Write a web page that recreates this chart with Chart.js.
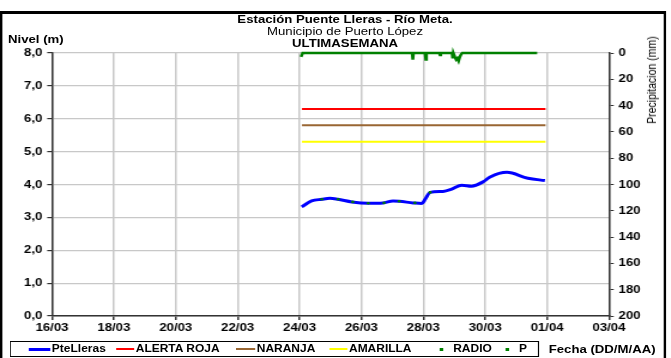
<!DOCTYPE html>
<html>
<head>
<meta charset="utf-8">
<script src="https://cdn.jsdelivr.net/npm/chart.js@4.4.1/dist/chart.umd.min.js"></script>
<style>
html, body { margin: 0; padding: 0; background: #fff; overflow: hidden; }
/* the whole sheet is drawn narrow and then widened a bit, like the printed report */
#hoja { position: absolute; left: 0; top: 0; width: 560px; height: 358px; transform: scale(1.198, 1); transform-origin: 0 0; font-family: "Liberation Sans", Arial, sans-serif; color: #000; }
#marco { position: absolute; left: 0; top: 11px; width: 556px; height: 400px; box-sizing: border-box; border: 3px solid #000; border-left-width: 2.5px; border-right-width: 2.5px; }
#grafico { position: absolute; left: 0; top: 0; }
.tit { position: absolute; left: 0; width: 576px; text-align: center; font-size: 11px; line-height: 12px; white-space: nowrap; }
.b { font-weight: bold; }
#nivel { position: absolute; left: 6.7px; top: 33px; font-size: 11px; font-weight: bold; line-height: 12px; }
#precip { position: absolute; left: 544px; top: 80px; font-size: 10.5px; line-height: 11px; white-space: nowrap; color: #000; transform: translate(-50%, -50%) rotate(-90deg); }
#leyenda { position: absolute; left: 8.3px; top: 341px; width: 442px; height: 16px; box-sizing: border-box; border: 1px solid #000; }
.it { position: absolute; top: 0; height: 14px; line-height: 14px; font-size: 10px; font-weight: bold; white-space: nowrap; }
.sw { position: absolute; height: 2px; top: 6px; }
.pt { position: absolute; width: 2.5px; height: 3px; top: 5.5px; background: #008000; }
#fecha { position: absolute; left: 458px; top: 342px; font-size: 11px; font-weight: bold; line-height: 14px; white-space: nowrap; }
</style>
</head>
<body>
<div id="hoja">
  <div id="marco"></div>
  <canvas id="grafico" width="560" height="358"></canvas>
  <div class="tit b" style="top:13px">Estación Puente Lleras - Río Meta.</div>
  <div class="tit" style="top:25px">Municipio de Puerto López</div>
  <div class="tit b" style="top:37px">ULTIMASEMANA</div>
  <div id="nivel">Nivel (m)</div>
  <div id="precip">Precipitacion (mm)</div>
  <div id="leyenda">
    <div class="sw" style="left:15px;width:18px;height:3px;top:5.5px;background:#0000ff"></div>
    <div class="it" style="left:34px">PteLleras</div>
    <div class="sw" style="left:88px;width:15px;background:#ff0000"></div>
    <div class="it" style="left:104px">ALERTA ROJA</div>
    <div class="sw" style="left:188px;width:16px;background:#996633"></div>
    <div class="it" style="left:205px">NARANJA</div>
    <div class="sw" style="left:266px;width:15px;background:#ffff00"></div>
    <div class="it" style="left:282px">AMARILLA</div>
    <div class="pt" style="left:358px"></div>
    <div class="it" style="left:369px">RADIO</div>
    <div class="pt" style="left:413px"></div>
    <div class="it" style="left:424px">P</div>
  </div>
  <div id="fecha">Fecha (DD/M/AA)</div>
</div>
<script>
// dias contados desde el 1 de marzo (32 = 01/04)
const nivelDias = [24.07, 24.39, 24.72, 24.98, 25.24, 25.69, 26.21, 26.70, 27.02, 27.22, 27.67, 27.95, 28.06, 28.22, 28.64, 28.92, 29.24, 29.56, 29.93, 30.16, 30.70, 31.38, 31.93];
const nivelValores = [3.32, 3.50, 3.55, 3.58, 3.55, 3.47, 3.43, 3.44, 3.50, 3.49, 3.44, 3.42, 3.55, 3.76, 3.79, 3.86, 3.98, 3.95, 4.08, 4.23, 4.37, 4.19, 4.12];

const radioDias = [24.72, 25.25, 25.72, 26.22, 26.73, 27.22, 27.73, 28.22];
const radioValores = [3.55, 3.55, 3.47, 3.43, 3.44, 3.49, 3.44, 3.76];

// umbrales de alerta (m)
const alertaDias = [24.08, 31.95];
const alertaRoja = 6.3;
const alertaNaranja = 5.8;
const alertaAmarilla = 5.3;

// precipitacion (mm)
const precipDias = [24.05, 24.10, 27.64, 27.66, 27.68, 28.06, 28.08, 28.10, 28.52, 28.54, 28.56, 28.93, 28.95, 28.97, 29.02, 29.06, 29.10, 29.14, 29.18, 29.22, 29.26, 31.68];
const precipValores = [3, 0, 0, 5, 0, 0, 5, 0, 0, 1.5, 0, 0, 4, 0, 3, 5, 4, 6, 3, 1, 0, 0];

// ejes
const nivelTicks = [0, 1, 2, 3, 4, 5, 6, 7, 8];
const precipTicks = [0, 20, 40, 60, 80, 100, 120, 140, 160, 180, 200];
const fechaInicio = 16, fechaFin = 34;

function pares(xs, ys) {
    return xs.map((x, i) => ({ x: x, y: ys[i] }));
}
function constante(xs, v) {
    return xs.map(x => ({ x: x, y: v }));
}
function fecha(v) {
    const d = v > 31 ? v - 31 : v;
    const m = v > 31 ? '04' : '03';
    return String(d).padStart(2, '0') + '/' + m;
}

const fuente = { family: "'Liberation Sans', Arial, sans-serif", size: 11, weight: 'bold' };
const gris = '#c8c8c8';

new Chart(document.getElementById('grafico'), {
    type: 'line',
    data: {
        datasets: [
            { label: 'PteLleras', data: pares(nivelDias, nivelValores), borderColor: '#0000ff', borderWidth: 3, pointRadius: 0, cubicInterpolationMode: 'monotone', yAxisID: 'y', order: 2 },
            { label: 'ALERTA ROJA', data: constante(alertaDias, alertaRoja), borderColor: '#ff0000', borderWidth: 2, pointRadius: 0, yAxisID: 'y' },
            { label: 'NARANJA', data: constante(alertaDias, alertaNaranja), borderColor: '#996633', borderWidth: 2, pointRadius: 0, yAxisID: 'y' },
            { label: 'AMARILLA', data: constante(alertaDias, alertaAmarilla), borderColor: '#ffff00', borderWidth: 2, pointRadius: 0, yAxisID: 'y' },
            { label: 'RADIO', data: pares(radioDias, radioValores), showLine: false, pointRadius: 1.3, pointBorderWidth: 0, pointBackgroundColor: '#008000', yAxisID: 'y', order: 1 },
            { label: 'P', data: pares(precipDias, precipValores), borderColor: '#008000', borderWidth: 2.5, pointRadius: 0, tension: 0, clip: false, yAxisID: 'y1', order: 0 }
        ]
    },
    options: {
        responsive: false,
        animation: false,
        devicePixelRatio: 1,
        layout: { padding: { top: 53, left: 0, right: 0, bottom: 0 } },
        plugins: { legend: { display: false }, title: { display: false }, tooltip: { enabled: false } },
        scales: {
            x: {
                type: 'linear', min: fechaInicio, max: fechaFin,
                afterFit: s => { s.height = 42; },
                afterBuildTicks: s => { s.ticks = []; for (let v = fechaInicio; v <= fechaFin; v += 2) s.ticks.push({ value: v }); },
                ticks: { callback: v => fecha(v), font: fuente, color: '#000', padding: 1, maxRotation: 0, autoSkip: false },
                grid: { color: gris, lineWidth: 1.5, tickColor: '#333', tickLength: 4 },
                border: { color: '#333', width: 1.5 }
            },
            y: {
                position: 'left', min: 0, max: 8,
                afterFit: s => { s.width = 43.4; },
                afterBuildTicks: s => { s.ticks = nivelTicks.map(v => ({ value: v })); },
                ticks: { callback: v => v.toFixed(1).replace('.', ','), font: fuente, color: '#000', padding: 4 },
                grid: { color: gris, lineWidth: 1.2, tickColor: '#333', tickLength: 4 },
                border: { color: '#333', width: 1.5 }
            },
            y1: {
                position: 'right', min: 0, max: 200, reverse: true,
                afterFit: s => { s.width = 51.7; },
                afterBuildTicks: s => { s.ticks = precipTicks.map(v => ({ value: v })); },
                ticks: { font: fuente, color: '#000', padding: 4 },
                grid: { drawOnChartArea: false, tickColor: '#333', tickLength: 4 },
                border: { color: '#333', width: 1.5 }
            }
        }
    }
});
</script>
</body>
</html>
